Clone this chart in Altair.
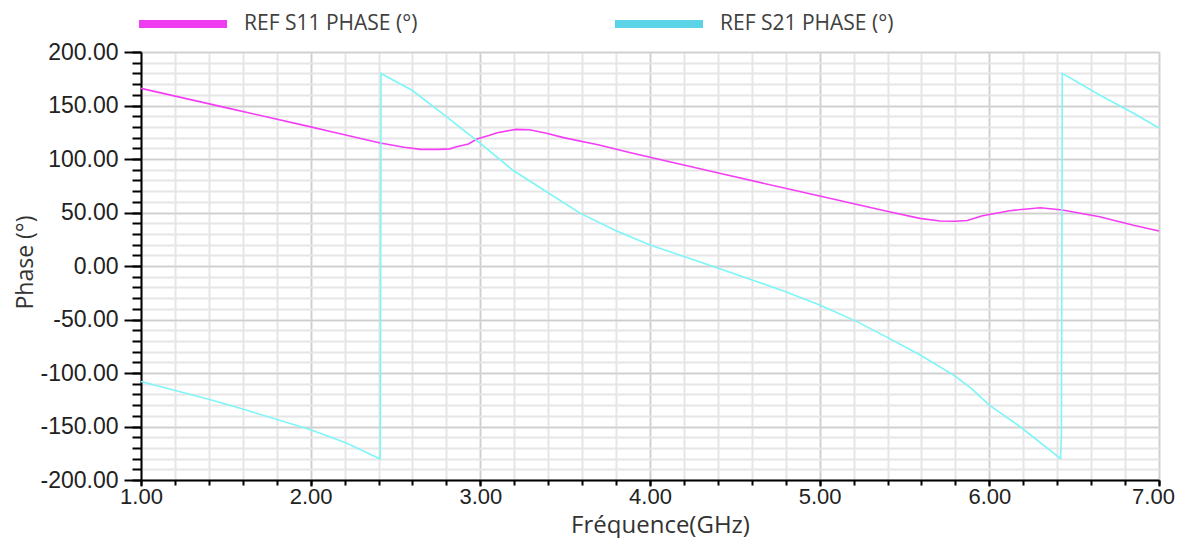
import altair as alt
import pandas as pd

series_names = ["REF S11 PHASE (°)", "REF S21 PHASE (°)"]

freq_s11 = [1.0, 1.5, 2.0, 2.11, 2.41, 2.55, 2.65, 2.75, 2.82, 2.86, 2.93, 2.98, 3.05, 3.10, 3.21, 3.29,
            3.39, 3.49, 3.7, 3.88, 4.0, 4.41, 5.0, 5.39, 5.59, 5.71, 5.8, 5.87, 5.96, 6.12, 6.3, 6.43,
            6.65, 6.85, 7.0]
phase_s11 = [166, 148, 130, 126, 115, 111, 109, 109, 109.5, 111.5, 114, 118.7, 122, 124.6, 127.7, 127.3,
             124, 120, 113, 106, 101.6, 86.6, 65.4, 51.4, 44.5, 42, 41.8, 42.5, 47, 51.7, 54.5, 52.3,
             46, 38, 32.7]

freq_s21 = [1.0, 1.41, 1.6, 2.0, 2.21, 2.41, 2.415, 2.42, 2.6, 2.8, 3.0, 3.19, 3.39, 3.59, 3.8, 4.0,
            4.39, 4.8, 5.0, 5.22, 5.39, 5.59, 5.79, 5.89, 6.0, 6.18, 6.42, 6.425, 6.43, 6.65, 6.85, 7.0]
phase_s21 = [-108, -125, -133.7, -153, -165.5, -180.4, 180, 179.5, 164, 139.5, 114.6, 89.7, 69.4, 49.2, 33, 19.6,
             -1.3, -24, -36.5, -52, -66, -83, -102, -114, -130, -150, -180, -157, 180, 159.8, 142.7, 129]

line_colors = ["#F53DF5", "#7EF5F7"]
legend_colors = ["#F03CF0", "#5BD5E5"]

x_major = [1, 2, 3, 4, 5, 6, 7]
x_minor = [round(1 + 0.2 * i, 2) for i in range(31)]
y_major = [-200, -150, -100, -50, 0, 50, 100, 150, 200]
y_minor = [-200 + 10 * i for i in range(41)]

rows = []
for i, (f, p) in enumerate(zip(freq_s11, phase_s11)):
    rows.append({"freq": f, "phase": p, "series": series_names[0], "idx": i})
for i, (f, p) in enumerate(zip(freq_s21, phase_s21)):
    rows.append({"freq": f, "phase": p, "series": series_names[1], "idx": i})
df = pd.DataFrame(rows)

xs = alt.Scale(domain=[1, 7], nice=False, zero=False)
ys = alt.Scale(domain=[-200, 200], nice=False, zero=False)

label_expr = "(datum.value < 0 ? '-' : '') + format(abs(datum.value), '.2f')"

base = alt.Chart(df)

minor = base.mark_line(opacity=0).encode(
    x=alt.X("freq:Q", scale=xs, axis=alt.Axis(
        values=x_minor, orient="bottom", grid=True, gridColor="#E6E6E6", gridWidth=2,
        labels=False, ticks=True, tickSize=5, tickColor="#000", tickWidth=2,
        domain=False, title=None)),
    y=alt.Y("phase:Q", scale=ys, axis=alt.Axis(
        values=y_minor, orient="left", grid=True, gridColor="#E6E6E6", gridWidth=2,
        labels=False, ticks=True, tickSize=9, tickColor="#000", tickWidth=2,
        domain=False, title=None)),
    detail="series:N",
)

major = base.mark_line(opacity=0).encode(
    x=alt.X("freq:Q", scale=xs, axis=alt.Axis(
        values=x_major, orient="bottom", grid=True, gridColor="#CFCFCF", gridWidth=1.5,
        labelExpr=label_expr, labelFont="Liberation Sans", labelFontSize=22, labelColor="#222",
        labelPadding=0, tickSize=6, tickColor="#000", tickWidth=2,
        labelOffset={"condition": {"test": "datum.value === 7", "value": -6}, "value": 0},
        domain=True, domainColor="#000", domainWidth=2,
        title="Fréquence(GHz)", titleFont="Open Sans", titleFontSize=24, titleFontWeight="normal",
        titleColor="#333", titleX=519, titleY=52, titleBaseline="alphabetic", titleAnchor="middle",
        labelOverlap=False, labelFlush=False)),
    y=alt.Y("phase:Q", scale=ys, axis=alt.Axis(
        values=y_major, orient="left", grid=True, gridColor="#CFCFCF", gridWidth=1.5,
        labelExpr=label_expr, labelFont="Liberation Sans", labelFontSize=23, labelColor="#222",
        labelPadding=6, tickSize=17, tickColor="#000", tickWidth=2,
        domain=True, domainColor="#000", domainWidth=2,
        title="Phase (°)", titleFont="Open Sans", titleFontSize=23, titleFontWeight="normal",
        titleColor="#333", titleAngle=270, titleX=-109, titleY=210, titleBaseline="alphabetic",
        titleAlign="center", labelOverlap=False, labelFlush=False)),
    detail="series:N",
)

lines = base.mark_line(strokeWidth=1.6).encode(
    x=alt.X("freq:Q", scale=xs, axis=None),
    y=alt.Y("phase:Q", scale=ys, axis=None),
    color=alt.Color("series:N", scale=alt.Scale(domain=series_names, range=line_colors), legend=None),
    order="idx:Q",
)

legend_layer = base.mark_line(opacity=0).encode(
    x=alt.X("freq:Q", scale=xs, axis=None),
    y=alt.Y("phase:Q", scale=ys, axis=None),
    color=alt.Color("series:N", scale=alt.Scale(domain=series_names, range=legend_colors),
                    legend=alt.Legend(orient="none", legendX=-6, legendY=-76, direction="horizontal",
                                      columns=2, columnPadding=181, symbolType="stroke",
                                      symbolSize=7744, symbolStrokeWidth=8, symbolOpacity=1,
                                      labelFont="Open Sans", labelFontSize=21, labelColor="#404040",
                                      labelOffset=13, labelLimit=400, title=None)),
    order="idx:Q",
)

chart = alt.layer(minor, major, lines, legend_layer).resolve_axis(
    x="independent", y="independent"
).resolve_scale(color="independent").resolve_legend(color="independent").properties(
    width=1018, height=428,
    autosize=alt.AutoSizeParams(type="none"),
    padding={"left": 133, "top": 44, "right": 16, "bottom": 58},
).configure_view(stroke="#555", strokeWidth=1.5).configure(background="white")

chart.save("out.html", embed_options={"renderer": "svg", "actions": False})
